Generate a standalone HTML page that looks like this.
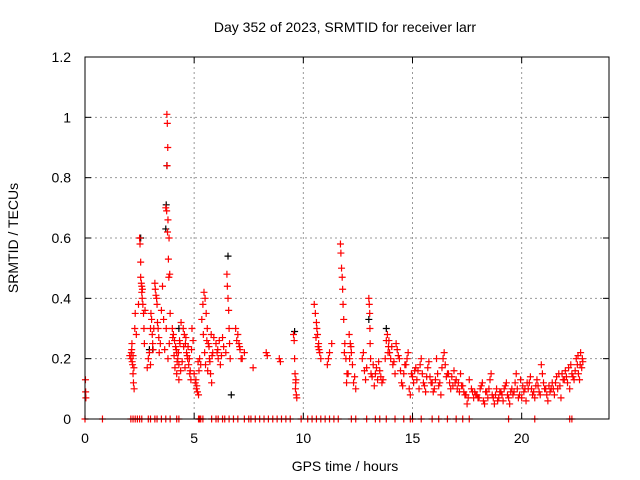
<!DOCTYPE html>
<html><head><meta charset="utf-8"><style>
body{margin:0;background:#fff}
svg{display:block;font-family:"Liberation Sans",sans-serif}
</style></head><body>
<svg id="chart" width="640" height="480">
<rect width="640" height="480" fill="#fff"/>
<text x="345" y="32" font-size="14" text-anchor="middle">Day 352 of 2023, SRMTID for receiver larr</text>
<text x="345" y="471" font-size="14" text-anchor="middle">GPS time / hours</text>
<text x="0" y="0" font-size="14" text-anchor="middle" transform="translate(18,238) rotate(-90)">SRMTID / TECUs</text>
<g id="grid"></g>
<g id="marks"></g>
<rect x="85" y="57" width="524" height="362" fill="none" stroke="#000" stroke-width="1"/>
<g id="ticks"></g>
</svg>
<script>
const xTicks=[0,5,10,15,20];
const yTicks=[0,0.2,0.4,0.6,0.8,1,1.2];
const yTickLabels=["0","0.2","0.4","0.6","0.8","1","1.2"];
const hours=[0.02,0.03,0.04,
2.1,2.12,2.15,2.18,2.2,2.22,2.25,2.28,2.3,2.2,2.16,
2.5,2.52,2.55,2.58,2.6,2.62,2.65,2.68,2.6,2.55,2.7,2.72,
2.9,2.95,3.0,3.02,3.05,3.08,3.1,3.0,
3.2,3.22,3.25,3.28,3.3,3.32,3.35,3.38,3.4,
3.75,3.77,3.79,3.76,3.7,3.74,3.8,3.78,3.85,3.82,3.88,3.84,3.9,3.72,3.86,3.8,
4.0,4.05,4.1,4.15,4.2,4.25,4.3,4.35,4.4,4.2,4.3,
4.5,4.55,4.6,4.65,4.7,4.75,4.8,4.85,4.9,4.62,
5.0,5.05,5.1,5.15,5.2,5.25,5.3,
5.4,5.45,5.5,5.55,5.6,5.65,5.7,5.75,5.8,5.85,5.9,
6.0,6.05,6.1,6.2,6.3,
6.5,6.52,6.55,6.58,6.6,6.62,6.65,
6.9,7.0,7.05,7.1,7.2,7.3,
7.7,8.3,8.35,8.9,8.95,
9.55,9.58,9.6,9.62,9.65,9.68,9.7,
10.5,10.55,10.6,10.65,10.7,10.75,10.8,10.62,
11.1,11.15,11.2,11.3,
11.7,11.72,11.75,11.78,11.8,11.82,11.85,11.9,11.95,12.0,11.98,11.88,
12.1,12.15,12.2,12.25,12.3,12.4,
12.7,12.75,12.8,12.85,12.9,
13.0,13.02,13.04,13.05,13.06,13.08,13.1,
13.2,13.3,13.4,13.5,13.6,
13.8,13.85,13.9,13.95,14.0,14.1,14.2,14.25,14.3,14.05,
14.5,14.6,14.7,14.75,14.8,14.85,14.9,15.0,
15.1,15.2,15.3,15.35,15.4,15.45,15.5,15.6,
15.7,15.8,15.9,16.0,16.05,16.1,16.2,16.3,
16.4,16.45,16.5,16.6,16.7,16.75,16.8,16.9,17.0,
17.05,17.1,17.2,17.3,17.35,17.4,17.5,17.6,
17.9,18.0,18.1,18.2,18.25,18.3,18.4,
18.5,18.55,18.6,18.7,18.75,18.8,18.9,19.0,
19.1,19.15,19.2,19.3,19.4,19.45,19.5,19.6,
19.7,19.75,19.8,19.9,20.0,20.05,20.1,20.2,
20.3,20.35,20.4,20.5,20.6,20.65,20.7,20.8,
20.9,20.95,21.0,21.1,21.15,21.2,21.3,
21.4,21.45,21.5,21.6,21.7,21.75,21.8,21.9,
22.0,22.05,22.1,22.2,22.25,22.3,22.4,
22.5,22.55,22.6,22.65,22.7,22.75,22.8,
2.05,2.14,2.24,2.35,2.45,2.63,2.75,2.85,3.12,3.15,3.45,3.5,3.55,3.6,3.65,4.02,4.08,4.12,4.18,4.22,4.28,4.33,4.38,4.45,4.52,4.58,4.68,4.72,4.78,4.82,4.88,4.95,5.08,5.12,5.18,5.22,5.35,5.42,5.48,5.52,5.58,5.62,5.68,5.72,5.78,5.82,6.08,6.15,6.25,6.35,6.45,6.95,7.08,7.15,9.64,9.66,10.58,10.68,10.72,12.05,12.12,12.18,12.35,13.15,13.25,13.35,13.45,13.55,13.65,13.75,13.88,13.92,14.15,14.35,14.4,14.45,14.55,14.65,14.95,15.05,15.15,15.25,15.55,15.65,15.75,15.85,15.95,16.15,16.25,16.35,16.55,16.65,16.85,16.95,17.15,17.25,17.45,17.55,17.7,17.75,17.8,17.85,17.95,18.05,18.15,18.35,18.45,18.65,18.85,18.95,19.05,19.25,19.35,19.55,19.65,19.85,19.95,20.15,20.25,20.45,20.55,20.75,20.85,21.05,21.25,21.35,21.55,21.65,21.85,21.95,22.15,22.35,22.45,22.58,22.68,22.78];
const tecu=[0.13,0.09,0.07,
0.2,0.22,0.25,0.18,0.15,0.12,0.1,0.3,0.35,0.21,0.19,
0.6,0.58,0.52,0.45,0.42,0.4,0.38,0.35,0.44,0.47,0.3,0.25,
0.2,0.22,0.3,0.35,0.33,0.28,0.25,0.18,
0.45,0.43,0.41,0.4,0.38,0.32,0.3,0.27,0.22,
1.01,0.98,0.9,0.84,0.7,0.69,0.66,0.62,0.6,0.53,0.48,0.47,0.35,0.3,0.25,0.2,
0.3,0.28,0.26,0.24,0.22,0.2,0.18,0.25,0.32,0.15,0.13,
0.3,0.28,0.25,0.22,0.2,0.18,0.15,0.13,0.3,0.27,
0.15,0.12,0.1,0.09,0.08,0.2,0.18,
0.38,0.42,0.4,0.35,0.3,0.25,0.2,0.15,0.12,0.22,0.27,
0.25,0.22,0.2,0.18,0.27,
0.48,0.44,0.4,0.36,0.3,0.25,0.2,
0.3,0.28,0.25,0.23,0.2,0.22,
0.17,0.22,0.21,0.2,0.19,
0.28,0.26,0.2,0.15,0.12,0.08,0.07,
0.38,0.35,0.32,0.28,0.25,0.22,0.2,0.3,
0.18,0.2,0.22,0.25,
0.58,0.55,0.5,0.47,0.43,0.38,0.33,0.25,0.2,0.15,0.12,0.22,
0.28,0.25,0.22,0.18,0.12,0.1,
0.2,0.22,0.16,0.13,0.17,
0.4,0.38,0.35,0.3,0.25,0.2,0.15,
0.18,0.15,0.13,0.16,0.12,
0.26,0.28,0.24,0.22,0.2,0.18,0.15,0.25,0.23,0.24,
0.12,0.15,0.18,0.2,0.22,0.1,0.08,0.14,
0.16,0.13,0.1,0.18,0.2,0.15,0.12,0.09,
0.17,0.14,0.12,0.1,0.13,0.2,0.11,0.08,
0.2,0.22,0.18,0.15,0.12,0.1,0.14,0.16,0.13,
0.1,0.12,0.15,0.11,0.09,0.08,0.05,0.13,
0.08,0.07,0.1,0.12,0.06,0.05,0.09,
0.1,0.13,0.15,0.07,0.05,0.08,0.06,0.09,
0.08,0.06,0.1,0.12,0.07,0.05,0.09,0.08,
0.12,0.15,0.1,0.08,0.07,0.11,0.09,0.06,
0.1,0.12,0.14,0.08,0.07,0.11,0.13,0.09,
0.18,0.15,0.12,0.1,0.08,0.06,0.09,
0.12,0.1,0.08,0.14,0.15,0.11,0.07,0.13,
0.16,0.14,0.12,0.1,0.18,0.15,0.13,
0.2,0.18,0.15,0.13,0.22,0.17,0.19,
0.21,0.23,0.17,0.28,0.38,0.43,0.36,0.17,0.23,0.3,0.25,0.36,0.44,0.33,0.23,0.27,0.21,0.17,0.23,0.19,0.22,0.26,0.16,0.19,0.24,0.17,0.21,0.24,0.2,0.16,0.23,0.26,0.13,0.11,0.19,0.16,0.33,0.28,0.22,0.18,0.26,0.16,0.24,0.19,0.28,0.21,0.23,0.26,0.21,0.24,0.22,0.26,0.24,0.2,0.1,0.13,0.27,0.24,0.23,0.15,0.2,0.24,0.14,0.14,0.11,0.17,0.19,0.14,0.13,0.2,0.22,0.26,0.19,0.21,0.2,0.16,0.11,0.18,0.15,0.12,0.17,0.16,0.11,0.14,0.19,0.12,0.09,0.15,0.12,0.17,0.14,0.15,0.11,0.12,0.09,0.11,0.08,0.07,0.1,0.09,0.07,0.09,0.08,0.07,0.11,0.09,0.07,0.08,0.1,0.07,0.09,0.11,0.08,0.1,0.09,0.07,0.13,0.1,0.12,0.1,0.09,0.11,0.08,0.1,0.11,0.1,0.12,0.1,0.15,0.13,0.17,0.14,0.16,0.21,0.18,0.2];
const blackHours=[2.55,2.95,3.1,3.7,3.72,3.75,4.3,6.55,6.7,9.6,13.0,13.8];
const blackValues=[0.6,0.23,0.23,0.63,0.71,0.84,0.3,0.54,0.08,0.29,0.33,0.3];
const zeroHours=[0,0.8,2.1,2.2,2.3,2.4,2.5,2.6,2.9,3.0,3.2,3.3,3.5,3.7,3.9,4.2,4.3,5.2,5.25,5.3,5.4,5.8,6.0,6.1,6.3,6.4,6.6,6.8,7.0,7.3,7.5,7.6,7.8,8.0,8.2,8.4,8.6,8.8,9.0,9.2,9.4,9.9,10.2,10.4,10.6,10.8,11.0,11.2,11.4,11.6,12.2,12.4,12.9,13.3,13.5,13.8,14.2,14.6,14.9,15.0,15.4,15.9,16.2,16.6,17.0,17.3,17.6,19.4,20.6,22.2,22.3];

const S='http://www.w3.org/2000/svg';
const X=h=>85+h*(524/24);
const Y=v=>419-v*(362/1.2);
const grid=document.getElementById('grid'),ticks=document.getElementById('ticks'),marks=document.getElementById('marks');
function mk(tag,attrs,parent){const e=document.createElementNS(S,tag);for(const k in attrs)e.setAttribute(k,attrs[k]);parent.appendChild(e);return e;}
xTicks.forEach(t=>{
  if(t>0){const g=mk('line',{x1:X(t),x2:X(t),y1:57,y2:419,stroke:'#999','stroke-dasharray':'2,3'},grid);
  
  }
  mk('line',{x1:X(t),x2:X(t),y1:419,y2:413,stroke:'#000'},ticks);
  mk('line',{x1:X(t),x2:X(t),y1:57,y2:63,stroke:'#000'},ticks);
  const l=mk('text',{x:X(t),y:443,'font-size':14,'text-anchor':'middle'},ticks);l.textContent=t;
  
  
});
yTicks.forEach((t,i)=>{
  if(t>0&&t<1.2){const g=mk('line',{x1:85,x2:609,y1:Y(t),y2:Y(t),stroke:'#999','stroke-dasharray':'2,3'},grid);
  
  }
  mk('line',{x1:85,x2:91,y1:Y(t),y2:Y(t),stroke:'#000'},ticks);
  mk('line',{x1:603,x2:609,y1:Y(t),y2:Y(t),stroke:'#000'},ticks);
  const l=mk('text',{x:71,y:Y(t)+5,'font-size':14,'text-anchor':'end'},ticks);l.textContent=yTickLabels[i];
  
  
});
function plus(h,v,c){const x=X(h),y=Y(v);
  const p=mk('path',{d:`M${x-3.5},${y}h7M${x},${y-3.5}v7`,stroke:c,'stroke-width':1.2,fill:'none'},marks);
  
  }
blackHours.forEach((h,i)=>plus(h,blackValues[i],'#000'));
hours.forEach((h,i)=>plus(h,tecu[i],'#f00'));
zeroHours.forEach(h=>plus(h,0,'#f00'));
</script>
</body></html>
